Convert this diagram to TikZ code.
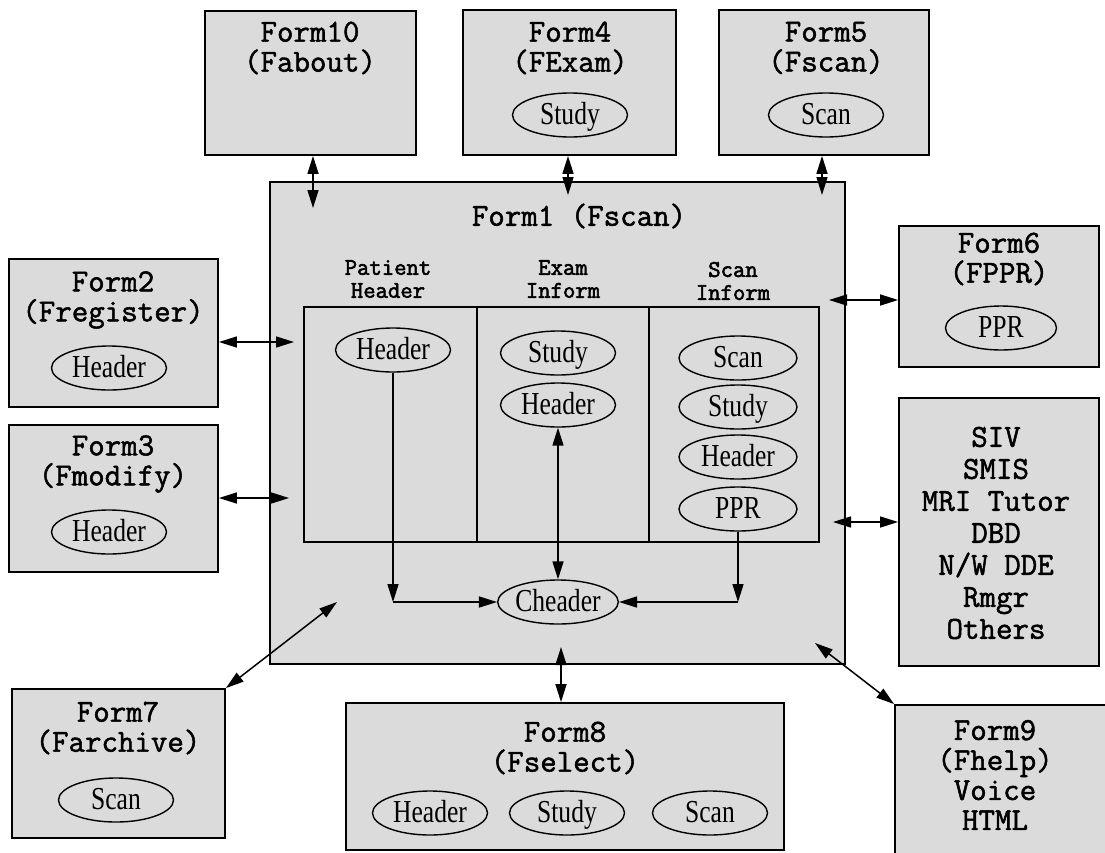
\documentclass[tikz,border=0pt]{standalone}
\usepackage{fontspec}
\setmainfont{Liberation Serif}
\newfontfamily\titlefont[FakeBold=1.6]{Latin Modern Mono}
\newfontfamily\headfontfam[FakeBold=2.4]{Latin Modern Mono}
\newfontfamily\ellfont[FakeStretch=0.8]{Liberation Serif}
\usetikzlibrary{arrows.meta,shapes.geometric}
\definecolor{boxfill}{gray}{0.86}
\begin{document}
\begin{tikzpicture}[x=1pt,y=-1pt,
  formbox/.style={draw, line width=1.8pt, fill=boxfill, inner sep=0pt},
  innerbox/.style={draw, line width=1.5pt, inner sep=0pt},
  divider/.style={line width=1.3pt},
  ttext/.style={font=\titlefont\fontsize{32}{30}\selectfont, align=center, inner sep=0pt},
  htext/.style={font=\headfontfam\fontsize{24}{23}\selectfont, align=center, inner sep=0pt},
  ell/.style={ellipse, draw, line width=1.4pt, minimum width=115pt, minimum height=44pt, inner sep=0pt,
     text height=20pt, text depth=2pt, font=\ellfont\fontsize{32}{32}\selectfont},
  dbl/.style={line width=1.5pt, arrows={Triangle[length=18pt,width=11pt]-Triangle[length=18pt,width=11pt]}},
  sgl/.style={line width=1.5pt, arrows={-Triangle[length=18pt,width=11pt]}}]
\useasboundingbox (0,0) rectangle (1105,852);
\fill[white] (0,0) rectangle (1105,852);

% ---------- boxes ----------
\node[formbox, minimum width=211pt, minimum height=144pt] (form10) at (310.5,83) {};
\node[formbox, minimum width=213pt, minimum height=145pt] (form4) at (569.5,82.5) {};
\node[formbox, minimum width=210pt, minimum height=145pt] (form5) at (824,82.5) {};
\node[formbox, minimum width=575pt, minimum height=482pt] (form1) at (557.5,423) {};
\node[formbox, minimum width=209pt, minimum height=148pt] (form2) at (113.5,333) {};
\node[formbox, minimum width=209pt, minimum height=147pt] (form3) at (113.5,498.5) {};
\node[formbox, minimum width=200pt, minimum height=141pt] (form6) at (999,296.5) {};
\node[formbox, minimum width=200pt, minimum height=268pt] (siv) at (999,532) {};
\node[formbox, minimum width=213pt, minimum height=149pt] (form7) at (118.5,763.5) {};
\node[formbox, minimum width=438pt, minimum height=147pt] (form8) at (565,776.5) {};
\node[formbox, minimum width=213pt, minimum height=153pt] (form9) at (1001.5,781.5) {};

% inner three-column box
\node[innerbox, minimum width=515pt, minimum height=235pt] (inner) at (561.5,424.5) {};
\coordinate (d1t) at (477,307);
\coordinate (d1b) at (477,542);
\coordinate (d2t) at (649,307);
\coordinate (d2b) at (649,542);
\draw[divider] (d1t) -- (d1b);
\draw[divider] (d2t) -- (d2b);

% ---------- texts ----------
\node[ttext] (t10) at (310,48) {Form10\\(Fabout)};
\node[ttext] (t4) at (570,48) {Form4\\(FExam)};
\node[ttext] (t5) at (826,48) {Form5\\(Fscan)};
\node[ttext] (t1) at (579,216) {Form1 (Fscan)};
\node[ttext] (t2) at (113,300) {Form2\\(Fregister)};
\node[ttext] (t3) at (113,464) {Form3\\(Fmodify)};
\node[ttext] (t6) at (999,259) {Form6\\(FPPR)};
\node[ttext, font=\titlefont\fontsize{32}{32}\selectfont] (tsiv) at (996,533) {SIV\\SMIS\\MRI Tutor\\DBD\\N/W DDE\\Rmgr\\Others};
\node[ttext] (t7) at (118,728) {Form7\\(Farchive)};
\node[ttext] (t8) at (565,748) {Form8\\(Fselect)};
\node[ttext] (t9) at (995,775) {Form9\\(Fhelp)\\Voice\\HTML};

\node[htext] (hp) at (388,279) {Patient\\Header};
\node[htext] (he) at (563,279) {Exam\\Inform};
\node[htext] (hs) at (733,281) {Scan\\Inform};

% ---------- ellipses ----------
\node[ell] (e4) at (570,115) {Study};
\node[ell] (e5) at (826,115) {Scan};
\node[ell] (e2) at (109,368) {Header};
\node[ell] (e3) at (109,532) {Header};
\node[ell, minimum width=111pt] (e6) at (1001,328) {PPR};
\node[ell] (e7) at (116,800) {Scan};
\node[ell] (e8a) at (430,813) {Header};
\node[ell] (e8b) at (567,813) {Study};
\node[ell] (e8c) at (710,813) {Scan};

\node[ell] (ph) at (393,350) {Header};
\node[ell] (es) at (558,353) {Study};
\node[ell] (eh) at (558,405) {Header};
\node[ell, minimum width=118pt] (ss) at (738,358) {Scan};
\node[ell, minimum width=118pt] (st) at (738,407) {Study};
\node[ell, minimum width=118pt] (sh) at (738,457) {Header};
\node[ell, minimum width=118pt] (sp) at (738,509) {PPR};
\node[ell] (ch) at (558,602) {Cheader};

% ---------- connectors ----------
\coordinate (a10) at (313,208);
\draw[dbl] (form10.south -| a10) -- (a10);
\coordinate (a4) at (568,195);
\draw[dbl] (form4.south -| a4) -- (a4);
\coordinate (a5) at (822,195);
\draw[dbl] (form5.south -| a5) -- (a5);
\coordinate (a2) at (294,342);
\draw[dbl] (form2.east |- a2) -- (a2);
\coordinate (a3) at (289,498);
\draw[dbl] (form3.east |- a3) -- (a3);
\coordinate (a6) at (829,300);
\draw[dbl] (a6) -- (form6.west |- a6);
\coordinate (asiv) at (833,522);
\draw[dbl] (asiv) -- (siv.west |- asiv);
\coordinate (a7) at (337,602);
\draw[dbl] (form7.north east) -- (a7);
\coordinate (a8) at (561,647);
\draw[dbl] (a8) -- (form8.north -| a8);
\coordinate (a9) at (815,643);
\draw[dbl] (a9) -- (form9.north west);

\coordinate (cp) at (393,602);
\draw[sgl] (ph.south) -- (cp);
\draw[sgl] (cp) -- (ch.west);
\draw[dbl] (eh.south) -- (ch.north);
\coordinate (cs) at (738,602);
\draw[sgl] (sp.south) -- (cs);
\draw[sgl] (cs) -- (ch.east);
\end{tikzpicture}
\end{document}
